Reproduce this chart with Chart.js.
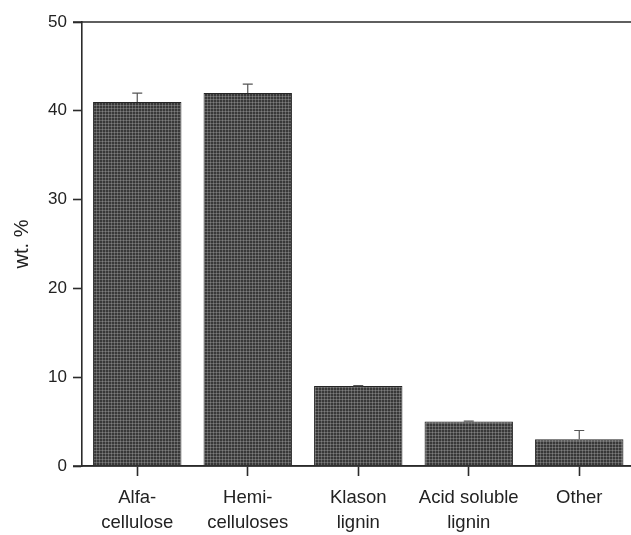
<!DOCTYPE html>
<html>
<head>
<meta charset="utf-8">
<script src="https://cdn.jsdelivr.net/npm/chart.js@4.4.1/dist/chart.umd.min.js"></script>
<style>
  html, body { margin: 0; padding: 0; background: #fff; overflow: hidden; }
  #wrap { width: 640px; height: 535px; }
</style>
</head>
<body>
<div id="wrap"><canvas id="chart" width="640" height="535"></canvas></div>
<script>
// chart data
const categories = [["Alfa-", "cellulose"], ["Hemi-", "celluloses"], ["Klason", "lignin"], ["Acid soluble", "lignin"], "Other"];
const values = [41, 42, 9, 5, 3];
const errors = [1, 1, 0.05, 0.05, 1];
const yTicks = [0, 10, 20, 30, 40, 50];

const FONT = "'Liberation Sans', Arial, sans-serif";
const INK = "#2b2b2b";

// hatched grey fill like the printed figure
function makePattern() {
  const c = document.createElement("canvas");
  c.width = 3;
  c.height = 3;
  const g = c.getContext("2d");
  g.fillStyle = "#383838";
  g.fillRect(0, 0, 3, 3);
  g.fillStyle = "#616161";
  g.fillRect(0, 0, 3, 1);
  g.fillRect(0, 0, 1, 3);
  g.fillStyle = "#7e7e7e";
  g.fillRect(0, 0, 1, 1);
  return g.createPattern(c, "repeat");
}

const errorBars = {
  id: "errorBars",
  afterDatasetsDraw(chart) {
    const ctx = chart.ctx;
    const meta = chart.getDatasetMeta(0);
    const y = chart.scales.y;
    ctx.save();
    ctx.strokeStyle = "#555";
    ctx.lineWidth = 1.2;
    meta.data.forEach((bar, i) => {
      const top = y.getPixelForValue(values[i] + errors[i]);
      const base = y.getPixelForValue(values[i]);
      ctx.beginPath();
      ctx.moveTo(bar.x, base);
      ctx.lineTo(bar.x, top);
      ctx.moveTo(bar.x - 5, top);
      ctx.lineTo(bar.x + 5, top);
      ctx.stroke();
    });
    ctx.restore();
  },
};

// top frame line and the bottom axis running out past the y axis
const frame = {
  id: "frame",
  afterDraw(chart) {
    const { ctx, chartArea } = chart;
    ctx.save();
    ctx.strokeStyle = INK;
    ctx.lineWidth = 1.6;
    ctx.beginPath();
    ctx.moveTo(chartArea.left - 9, chartArea.top);
    ctx.lineTo(chart.width, chartArea.top);
    ctx.moveTo(chartArea.left - 9, chartArea.bottom);
    ctx.lineTo(chart.width, chartArea.bottom);
    ctx.stroke();
    ctx.restore();
  },
};

new Chart(document.getElementById("chart"), {
  type: "bar",
  data: {
    labels: categories,
    datasets: [
      {
        data: values,
        backgroundColor: makePattern(),
        borderColor: "#262626",
        borderWidth: 1,
        barPercentage: 0.8,
        categoryPercentage: 1,
      },
    ],
  },
  options: {
    responsive: false,
    animation: false,
    layout: { padding: { top: 22, right: 5.5, left: 0, bottom: 0 } },
    plugins: {
      legend: { display: false },
      tooltip: { enabled: false },
    },
    scales: {
      x: {
        offset: true,
        grid: {
          offset: false,
          drawOnChartArea: false,
          drawTicks: true,
          tickLength: 10,
          tickColor: INK,
          tickWidth: 1.6,
        },
        border: { display: true, color: INK, width: 1.6 },
        ticks: {
          color: "#222",
          padding: 9,
          maxRotation: 0,
          autoSkip: false,
          font: { family: FONT, size: 18.5, lineHeight: 1.35 },
        },
        afterFit(scale) {
          scale.height = 69;
        },
      },
      y: {
        min: 0,
        max: 50,
        afterBuildTicks(scale) {
          scale.ticks = yTicks.map((v) => ({ value: v }));
        },
        grid: {
          drawOnChartArea: false,
          tickLength: 9,
          tickColor: INK,
          tickWidth: 1.6,
        },
        border: { display: true, color: INK, width: 1.6 },
        ticks: {
          color: "#222",
          padding: 6,
          font: { family: FONT, size: 17 },
        },
        title: {
          display: true,
          text: "wt. %",
          color: "#222",
          font: { family: FONT, size: 20 },
          padding: { top: 10, bottom: 0 },
        },
        afterFit(scale) {
          scale.width = 82;
        },
      },
    },
  },
  plugins: [errorBars, frame],
});
</script>
</body>
</html>
